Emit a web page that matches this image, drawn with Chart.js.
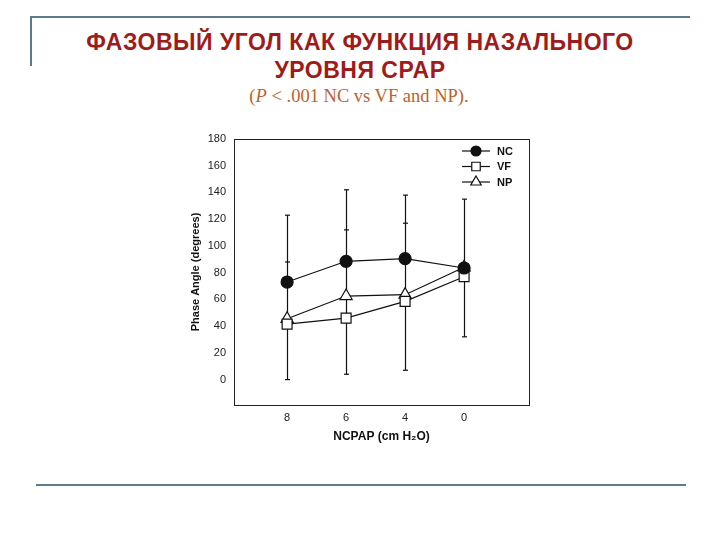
<!DOCTYPE html>
<html>
<head>
<meta charset="utf-8">
<script src="https://cdn.jsdelivr.net/npm/chart.js@4.4.1/dist/chart.umd.min.js"></script>
<style>
  html, body { margin: 0; padding: 0; background: #fff; }
  #slide { position: relative; width: 720px; height: 540px; overflow: hidden; }
  #chart { position: absolute; left: 0; top: 0; }
  .rule { position: absolute; background: #5f7a8c; }
  .title { position: absolute; left: 0; width: 720px; text-align: center;
           font-family: "Liberation Sans", Arial, sans-serif; font-weight: bold;
           font-size: 23px; letter-spacing: 0.5px; color: #9e1b1b; line-height: 28px; }
  .sub { position: absolute; left: 0; width: 718px; text-align: center;
         font-family: "Liberation Serif", "Times New Roman", serif; font-size: 18.5px;
         color: #c0602a; line-height: 20px; }
</style>
</head>
<body>
<div id="slide">
  <div class="rule" style="left:30px; top:16px; width:660px; height:2px;"></div>
  <div class="rule" style="left:30px; top:16px; width:2px; height:50px;"></div>
  <div class="rule" style="left:36px; top:484px; width:650px; height:2px;"></div>
  <div class="title" style="top:28px;">ФАЗОВЫЙ УГОЛ КАК ФУНКЦИЯ НАЗАЛЬНОГО<br>УРОВНЯ CPAP</div>
  <div class="sub" style="top:86px;">(<i>P</i> &lt; .001 NC vs VF and NP).</div>
  <canvas id="chart" width="720" height="540"></canvas>
</div>
<script>
  // x categories (cm H2O), left to right
  const xLabels = ['8', '6', '4', '0'];
  const xPos = [0, 1, 2, 3];
  const yTicks = [0, 20, 40, 60, 80, 100, 120, 140, 160, 180];

  // mean phase angle (degrees)
  const ncValues = [73, 88.5, 90.5, 83.5];
  const vfValues = [41.5, 46, 58.5, 77];
  const npValues = [45.5, 62.5, 63.5, 84];

  // error bar ends
  const ncUpper = [123, 142, 138, 135];
  const npUpper = [88, 112, 117, null];
  const vfLower = [0, 4, 7, 32];

  const INK = '#111';

  const pts = vals => vals.map((v, i) => ({ x: xPos[i], y: v }));

  const errorBars = {
    id: 'errorBars',
    beforeDatasetsDraw(chart) {
      const { ctx, scales: { x, y } } = chart;
      ctx.save();
      ctx.strokeStyle = INK;
      ctx.lineWidth = 1.2;
      xPos.forEach((p, i) => {
        const px = Math.round(x.getPixelForValue(p)) + 0.5;
        const top = y.getPixelForValue(ncUpper[i]);
        const bot = y.getPixelForValue(vfLower[i]);
        ctx.beginPath();
        ctx.moveTo(px, top);
        ctx.lineTo(px, bot);
        ctx.stroke();
        [ncUpper[i], npUpper[i], vfLower[i]].forEach(v => {
          if (v == null) return;
          const py = y.getPixelForValue(v);
          ctx.beginPath();
          ctx.moveTo(px - 2.5, py);
          ctx.lineTo(px + 2.5, py);
          ctx.stroke();
        });
      });
      ctx.restore();
    }
  };

  const frame = {
    id: 'frame',
    afterDraw(chart) {
      const { ctx, chartArea: a } = chart;
      ctx.save();
      ctx.strokeStyle = '#222';
      ctx.lineWidth = 1;
      ctx.strokeRect(Math.round(a.left) + 0.5, Math.round(a.top) + 0.5,
        Math.round(a.right - a.left), Math.round(a.bottom - a.top));
      ctx.restore();
    }
  };

  const legendBox = {
    id: 'legendBox',
    afterDraw(chart) {
      const { ctx, chartArea: a } = chart;
      ctx.save();
      ctx.font = 'bold 11px "Liberation Sans", Arial, sans-serif';
      ctx.textBaseline = 'middle';
      chart.data.datasets.forEach((ds, i) => {
        const cy = a.top + 12 + i * 15.5;
        const x0 = a.right - 67;
        ctx.strokeStyle = INK;
        ctx.lineWidth = 1.2;
        ctx.beginPath();
        ctx.moveTo(x0, cy);
        ctx.lineTo(x0 + 28, cy);
        ctx.stroke();
        ctx.fillStyle = ds.pointBackgroundColor;
        Chart.helpers.drawPoint(ctx, {
          pointStyle: ds.pointStyle,
          radius: ds.pointRadius - 1,
          borderWidth: 1.2
        }, x0 + 14, cy);
        ctx.fillStyle = INK;
        ctx.fillText(ds.label, x0 + 35, cy + 0.5);
      });
      ctx.restore();
    }
  };

  const series = (label, vals, style, fill, r) => ({
    label,
    data: pts(vals),
    borderColor: INK,
    borderWidth: 1.2,
    pointStyle: style,
    pointRadius: r,
    pointBackgroundColor: fill,
    pointBorderColor: INK,
    pointBorderWidth: 1.2,
    tension: 0
  });

  new Chart(document.getElementById('chart'), {
    type: 'line',
    data: {
      datasets: [
        series('NC', ncValues, 'circle', INK, 6),
        series('VF', vfValues, 'rect', '#fff', 7),
        series('NP', npValues, 'triangle', '#fff', 7)
      ]
    },
    options: {
      responsive: false,
      animation: false,
      events: [],
      layout: { padding: { left: 184, top: 139, right: 191, bottom: 90 } },
      plugins: { legend: { display: false }, tooltip: { enabled: false } },
      scales: {
        x: {
          type: 'linear',
          min: -0.9,
          max: 4.1,
          grid: { display: false, drawTicks: false },
          border: { display: false },
          afterBuildTicks: s => { s.ticks = xPos.map(v => ({ value: v })); },
          afterFit: s => { s.height = 45; },
          ticks: {
            padding: 6,
            color: '#222',
            font: { family: '"Liberation Sans", Arial, sans-serif', size: 11 },
            callback: v => xLabels[v]
          },
          title: {
            display: true,
            text: 'NCPAP (cm H₂O)',
            color: '#111',
            padding: { bottom: 6 },
            font: { family: '"Liberation Sans", Arial, sans-serif', size: 12, weight: 'bold' }
          }
        },
        y: {
          min: -19,
          max: 180,
          grid: { display: false, drawTicks: false },
          border: { display: false },
          afterBuildTicks: s => { s.ticks = yTicks.map(v => ({ value: v })); },
          afterFit: s => { s.width = 50; },
          ticks: {
            padding: 8,
            color: '#222',
            font: { family: '"Liberation Sans", Arial, sans-serif', size: 11 }
          },
          title: {
            display: true,
            text: 'Phase Angle (degrees)',
            color: '#111',
            padding: { top: 5 },
            font: { family: '"Liberation Sans", Arial, sans-serif', size: 11, weight: 'bold' }
          }
        }
      }
    },
    plugins: [errorBars, frame, legendBox]
  });
</script>
</body>
</html>
